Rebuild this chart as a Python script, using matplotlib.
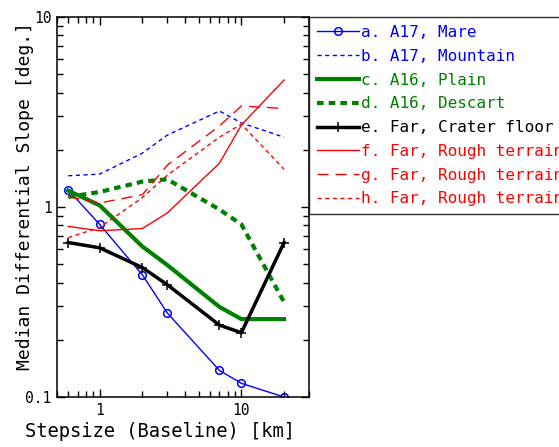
import matplotlib
matplotlib.use("Agg")
import matplotlib.pyplot as plt
from matplotlib.ticker import FixedLocator, FixedFormatter, LogLocator, NullFormatter

plt.rcParams['font.family'] = ['DejaVu Sans Mono']

# step sizes [km]
steps = [0.6, 1, 2, 3, 7, 10, 20]

# median differential slope [deg.]
a_mare = [1.23, 0.81, 0.44, 0.277, 0.138, 0.118, 0.10]
b_mountain = [1.46, 1.49, 1.92, 2.39, 3.2, 2.77, 2.33]
c_plain = [1.22, 1.02, 0.62, 0.495, 0.298, 0.257, 0.257]
d_descart = [1.13, 1.2, 1.36, 1.40, 0.97, 0.81, 0.316]
e_crater = [0.65, 0.61, 0.48, 0.39, 0.239, 0.218, 0.65]
f_rough = [0.79, 0.75, 0.77, 0.93, 1.70, 2.7, 4.66]
g_rough = [1.13, 1.05, 1.16, 1.66, 2.67, 3.4, 3.3]
h_rough = [0.69, 0.78, 1.12, 1.47, 2.33, 2.73, 1.58]

labels = ["a. A17, Mare", "b. A17, Mountain", "c. A16, Plain", "d. A16, Descart",
          "e. Far, Crater floor", "f. Far, Rough terrain", "g. Far, Rough terrain",
          "h. Far, Rough terrain"]

blue = '#0000ff'
green = '#008000'
red = '#ff0000'

fig = plt.figure(figsize=(5.59, 4.47), dpi=100)
ax = fig.add_axes([57/559, 1-397/447, 252/559, 380/447])

ax.plot(steps, a_mare, color=blue, lw=1, marker='o', ms=5.5, mfc='none', mew=1.1, label=labels[0])
ax.plot(steps, b_mountain, color=blue, lw=1, dashes=(3, 2.5), label=labels[1])
ax.plot(steps, c_plain, color=green, lw=3, label=labels[2])
ax.plot(steps, d_descart, color=green, lw=3, dashes=(1.6, 1.2), label=labels[3])
ax.plot(steps, e_crater, color='black', lw=2.5, marker='+', ms=7, mew=1.1, label=labels[4])
ax.plot(steps, f_rough, color=red, lw=1, label=labels[5])
ax.plot(steps, g_rough, color=red, lw=1, dashes=(8, 5), label=labels[6])
ax.plot(steps, h_rough, color=red, lw=1, dashes=(3, 2.5), label=labels[7])

ax.set_xscale('log')
ax.set_yscale('log')
ax.set_xlim(0.5, 30)
ax.set_ylim(0.1, 10)

ax.xaxis.set_major_locator(FixedLocator([1, 10]))
ax.xaxis.set_major_formatter(FixedFormatter(['1', '10']))
ax.xaxis.set_minor_locator(LogLocator(base=10, subs=range(2, 10)))
ax.xaxis.set_minor_formatter(NullFormatter())
ax.yaxis.set_major_locator(FixedLocator([0.1, 1, 10]))
ax.yaxis.set_major_formatter(FixedFormatter(['0.1', '1', '10']))
ax.yaxis.set_minor_locator(LogLocator(base=10, subs=range(2, 10)))
ax.yaxis.set_minor_formatter(NullFormatter())

ax.tick_params(which='both', direction='in', top=True, right=True, labelsize=10.5, pad=4)
ax.tick_params(which='major', length=6, width=1)
ax.tick_params(which='minor', length=4, width=1)
for s in ax.spines.values():
    s.set_linewidth(1.1)

ax.set_xlabel("Stepsize (Baseline) [km]", fontsize=13.5)
ax.set_ylabel("Median Differential Slope [deg.]", fontsize=13)
ax.xaxis.set_label_coords(0.41, -0.065)
ax.yaxis.set_label_coords(-0.09, 0.53)

# legend sits against the right spine and runs off the figure edge, as in the original
leg = ax.legend(loc='upper left', bbox_to_anchor=(1, 1), borderaxespad=0,
                fontsize=11.5, frameon=True, fancybox=False, handlelength=2.6,
                handletextpad=0.15, labelspacing=0.55, borderpad=0.5)
leg.get_frame().set_edgecolor('black')
leg.get_frame().set_linewidth(1)
text_colors = [blue, blue, green, green, 'black', red, red, red]
for t, c in zip(leg.get_texts(), text_colors):
    t.set_color(c)

fig.savefig('out.png', dpi=100)
